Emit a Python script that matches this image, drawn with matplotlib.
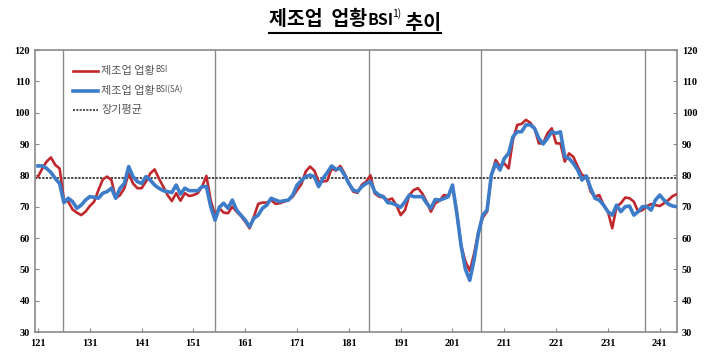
#!/usr/bin/env python3
"""Manufacturing business survey index (BSI) trend chart, redrawn from a report figure."""

import matplotlib
matplotlib.use("Agg")
import matplotlib.pyplot as plt
from matplotlib.lines import Line2D


# monthly values, 2012.01 onward
bsi_raw = [
    79.6, 82.2, 84.4, 85.7, 83.3, 82.2, 72.1, 71.6, 69.1, 68.1, 67.3, 68.4,
    70.2, 71.6, 75.3, 78.7, 79.6, 78.5, 72.7, 73.7, 75.9, 80.6, 77.4, 75.9,
    75.9, 78.0, 80.6, 81.9, 79.0, 76.4, 73.7, 71.8, 74.3, 71.9, 74.3, 73.4,
    73.7, 74.3, 76.4, 79.8, 72.0, 67.3, 69.5, 68.1, 67.9, 70.0, 68.4, 67.0,
    65.2, 63.1, 66.8, 70.9, 71.3, 71.3, 72.1, 70.9, 71.1, 71.6, 72.1, 73.2,
    75.3, 77.2, 81.2, 82.8, 81.5, 78.0, 78.0, 78.3, 82.2, 81.5, 83.0, 80.6,
    77.4, 74.8, 74.4, 77.0, 78.0, 80.0, 74.2, 73.2, 73.0, 72.1, 72.6, 70.5,
    67.3, 68.9, 73.7, 75.3, 75.9, 74.2, 71.6, 68.4, 71.1, 71.9, 73.7, 73.4,
    76.4, 68.4, 57.5, 52.5, 49.5, 55.0, 62.0, 66.5, 68.4, 80.1, 84.9, 82.8,
    83.8, 82.2, 91.3, 96.1, 96.4, 97.7, 96.8, 95.0, 90.2, 90.2, 93.4, 95.0,
    90.2, 90.2, 84.4, 87.0, 85.9, 82.8, 80.1, 79.6, 74.8, 73.2, 73.7, 70.5,
    68.4, 63.1, 70.0, 71.1, 72.9, 72.7, 71.6, 68.4, 68.9, 70.2, 70.8, 70.5,
    70.2, 71.1, 72.1, 73.4, 74.0,
]
bsi_sa = [
    83.0, 83.0, 82.2, 80.9, 79.0, 77.4, 71.3, 72.7, 71.6, 69.5, 70.5, 72.1,
    73.2, 73.0, 72.7, 74.3, 74.8, 75.9, 72.7, 75.9, 77.4, 82.8, 79.6, 78.0,
    77.4, 79.6, 78.5, 76.9, 75.9, 75.1, 74.8, 74.5, 76.9, 74.0, 75.9, 75.1,
    75.1, 75.1, 76.4, 76.4, 70.0, 65.7, 69.8, 71.1, 69.5, 72.1, 68.9, 67.3,
    65.7, 63.6, 66.3, 67.3, 69.5, 70.5, 72.7, 72.1, 71.6, 71.9, 72.1, 73.7,
    76.9, 78.3, 79.6, 80.1, 79.6, 76.4, 79.0, 80.9, 83.0, 81.9, 82.2, 80.1,
    77.4, 75.3, 74.8, 76.4, 77.4, 78.0, 74.8, 73.7, 73.2, 71.3, 71.1, 70.5,
    69.8, 71.6, 73.7, 73.2, 73.2, 73.2, 71.1, 69.5, 72.3, 72.1, 72.6, 73.2,
    76.9, 67.9, 57.5, 50.0, 46.5, 53.0, 61.5, 67.3, 68.9, 80.1, 83.8, 81.7,
    85.4, 87.0, 92.3, 93.9, 93.9, 96.1, 96.1, 95.0, 91.8, 90.0, 91.8, 93.9,
    93.4, 93.9, 85.9, 85.4, 83.8, 81.7, 78.5, 79.8, 75.9, 72.7, 72.1, 70.5,
    68.4, 67.3, 70.5, 68.4, 70.0, 70.2, 67.3, 68.4, 70.0, 70.0, 68.9, 72.1,
    73.7, 72.1, 70.8, 70.2, 70.0,
]
long_run_avg = 79
# month positions of the vertical reference lines
ref_months = [5.8, 41, 76.6, 102.6, 140.5]
tick_months = list(range(0, 145, 12))
tick_labels = ["121", "131", "141", "151", "161", "171", "181",
               "191", "201", "211", "221", "231", "241"]
y_ticks = list(range(30, 121, 10))

KR = ["Noto Sans CJK KR", "DejaVu Sans"]
RED = "#c0282d"
BLUE = "#3d7cc9"
GRID_GRAY = "#8a8a8a"
AVG_STYLE = (0, (1.2, 0.8))


def style_tick_labels(ax: plt.Axes) -> None:
    labels = list(ax.get_xticklabels())
    for t in ax.yaxis.get_major_ticks():
        labels += [t.label1, t.label2]
    for lab in labels:
        lab.set_fontfamily("Liberation Serif")
        lab.set_fontweight("bold")
        lab.set_fontsize(7.5)


def draw_legend(ax: plt.Axes) -> None:
    # hand-made legend so that "BSI" can be set smaller than the Korean text
    entries = [
        (RED, 1.9, "-", "제조업 업황", "BSI", 0.925),
        (BLUE, 2.6, "-", "제조업 업황", "BSI(SA)", 0.856),
        ("#333333", 1.2, AVG_STYLE, "장기평균", "", 0.787),
    ]
    for color, lw, ls, main_txt, small_txt, yy in entries:
        ax.add_line(Line2D([0.059, 0.098], [yy, yy], transform=ax.transAxes,
                           color=color, lw=lw, ls=ls, zorder=5))
        t = ax.text(0.103, yy, main_txt, transform=ax.transAxes, va="center",
                    ha="left", fontsize=8, family=KR, color="#555555")
        if small_txt:
            ax.annotate(small_txt, xy=(1.0, 0.18), xycoords=t, va="bottom",
                        ha="left", fontsize=5.8, family=KR, color="#555555")


def draw_title(fig: plt.Figure) -> None:
    title = fig.text(0.37, 0.945, "제조업  업황", ha="left", va="center",
                     fontsize=14, fontweight="bold", family=KR)
    t2 = fig.text(0, 0, "BSI", fontsize=11.5, fontweight="bold", family=KR)
    t3 = fig.text(0, 0, "1)", fontsize=7.5, family=KR)
    t4 = fig.text(0, 0, " 추이", fontsize=14, fontweight="bold", family=KR)

    inv = fig.transFigure.inverted()

    def right_edge(txt):
        fig.canvas.draw()
        bb = txt.get_window_extent(fig.canvas.get_renderer())
        return inv.transform((bb.x1, bb.y1))[0], inv.transform((bb.x0, bb.y0))

    x1, (x0, y0) = right_edge(title)
    t2.set_position((x1, y0 + 0.012))
    xa, _ = right_edge(t2)
    t3.set_position((xa - 0.002, y0 + 0.033))
    xb, _ = right_edge(t3)
    t4.set_position((xb, y0))
    xe, _ = right_edge(t4)

    # re-center the whole title block on the figure
    shift = 0.5 - (x0 + xe) / 2
    for txt in (title, t2, t3, t4):
        px, py = txt.get_position()
        txt.set_position((px + shift, py))
    fig.add_artist(Line2D([x0 + shift, xe + shift], [0.907, 0.907],
                          transform=fig.transFigure, color="black", lw=1.5))


def main() -> None:
    fig = plt.figure(figsize=(7.1, 3.55), dpi=100)
    ax = fig.add_axes([35 / 710, 23 / 355, 642 / 710, 282 / 355])

    months = list(range(len(bsi_raw)))

    for m in ref_months:
        ax.axvline(m, color=GRID_GRAY, lw=1.0, zorder=1)
    ax.axhline(long_run_avg, color="#333333", lw=1.3, ls=AVG_STYLE, zorder=2)
    ax.plot(months, bsi_raw, color=RED, lw=1.9, zorder=3)
    ax.plot(months, bsi_sa, color=BLUE, lw=2.6, zorder=4)

    ax.set_xlim(-0.7, 148)
    ax.set_ylim(30, 120)
    ax.set_xticks(tick_months)
    ax.set_xticklabels(tick_labels)
    ax.set_yticks(y_ticks)
    ax.tick_params(axis="both", direction="in", length=3, color=GRID_GRAY,
                   right=True, labelright=True)
    ax.tick_params(axis="x", pad=5)
    style_tick_labels(ax)
    for sp in ax.spines.values():
        sp.set_color(GRID_GRAY)
        sp.set_linewidth(1.2)

    draw_legend(ax)
    draw_title(fig)

    fig.savefig("out.png", dpi=100)
    plt.close(fig)


if __name__ == "__main__":
    main()
